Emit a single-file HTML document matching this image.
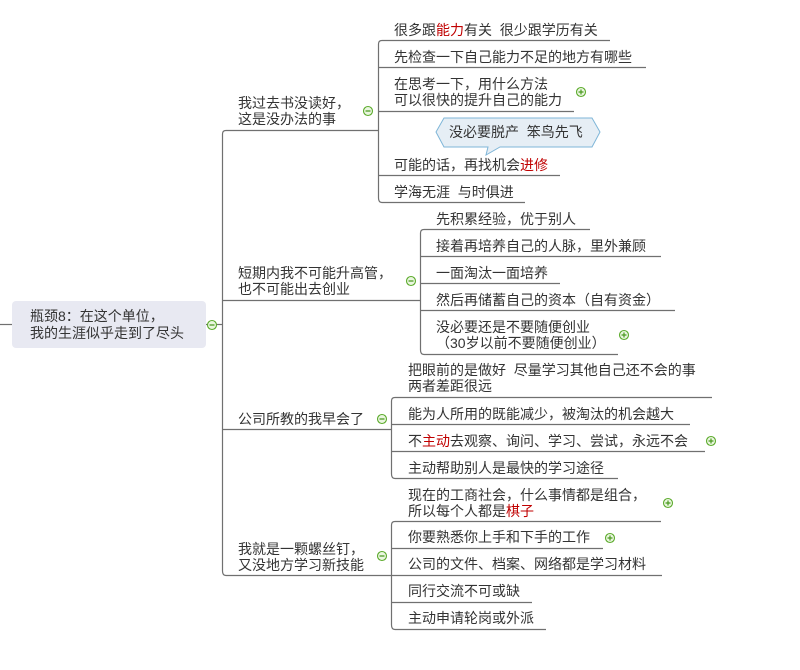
<!DOCTYPE html>
<html><head><meta charset="utf-8"><style>
body{margin:0;background:#fff;}
svg text{font-family:"Liberation Sans","Noto Sans CJK SC","WenQuanYi Zen Hei",sans-serif;font-size:14px;fill:#333;}
</style></head><body>
<svg width="800" height="665" viewBox="0 0 800 665" xmlns="http://www.w3.org/2000/svg">
<g fill="none" stroke="#707070" stroke-width="1.2">
<path d="M0 324.5H12"/>
<path d="M206 324.5H222"/>
<path d="M226 130.5Q222.5 130.5 222.5 134V571Q222.5 575.5 226 575.5"/>
<path d="M226 130.5H378M222.5 300.5H420M222.5 429.5H391M226 575.5H391"/>
<path d="M382 40.5Q378.5 40.5 378.5 44V198Q378.5 202.5 382 202.5"/>
<path d="M382 40.5H610M378.5 67.5H646M378.5 111.5H574M378.5 175.5H560M382 202.5H525"/>
<path d="M424 229.5Q420.5 229.5 420.5 233V350Q420.5 354.5 424 354.5"/>
<path d="M424 229.5H590M420.5 256.5H661M420.5 283.5H560M420.5 310.5H675M424 354.5H618"/>
<path d="M395 397.5Q391.5 397.5 391.5 401V474Q391.5 478.5 395 478.5"/>
<path d="M395 397.5H712M391.5 424.5H690M391.5 451.5H705M395 478.5H618"/>
<path d="M395 521.5Q391.5 521.5 391.5 525V625Q391.5 629.5 395 629.5"/>
<path d="M395 521.5H661M391.5 548.5H603M391.5 575.5H662M391.5 602.5H532M395 629.5H546"/>
</g>
<rect x="12" y="301" width="194" height="47" rx="4" fill="#e8e9f2"/>
<text x="30" y="321">瓶颈8：在这个单位，</text>
<text x="30" y="338">我的生涯似乎走到了尽头</text>
<polygon points="436,132 444,118 592,118 600,132 592,147 500,147 486,155 488,147 444,147" fill="#e6eef5" stroke="#7fb6d8" stroke-width="1"/>
<text x="449" y="137">没必要脱产&#160;&#160;笨鸟先飞</text>
<text x="238" y="108">我过去书没读好，</text>
<text x="238" y="124">这是没办法的事</text>
<text x="238" y="278">短期内我不可能升高管，</text>
<text x="238" y="294">也不可能出去创业</text>
<text x="238" y="424">公司所教的我早会了</text>
<text x="238" y="554">我就是一颗螺丝钉，</text>
<text x="238" y="570">又没地方学习新技能</text>
<text x="394" y="35">很多跟<tspan fill="#c00000">能力</tspan>有关&#160;&#160;很少跟学历有关</text>
<text x="394" y="62">先检查一下自己能力不足的地方有哪些</text>
<text x="394" y="89">在思考一下，用什么方法</text>
<text x="394" y="105">可以很快的提升自己的能力</text>
<text x="394" y="170">可能的话，再找机会<tspan fill="#c00000">进修</tspan></text>
<text x="394" y="197">学海无涯&#160;&#160;与时俱进</text>
<text x="436" y="224">先积累经验，优于别人</text>
<text x="436" y="251">接着再培养自己的人脉，里外兼顾</text>
<text x="436" y="278">一面淘汰一面培养</text>
<text x="436" y="305">然后再储蓄自己的资本（自有资金）</text>
<text x="436" y="332">没必要还是不要随便创业</text>
<text x="436" y="348">（30岁以前不要随便创业）</text>
<text x="408" y="375">把眼前的是做好&#160;&#160;尽量学习其他自己还不会的事</text>
<text x="408" y="391">两者差距很远</text>
<text x="408" y="419">能为人所用的既能减少，被淘汰的机会越大</text>
<text x="408" y="446">不<tspan fill="#c00000">主动</tspan>去观察、询问、学习、尝试，永远不会</text>
<text x="408" y="473">主动帮助别人是最快的学习途径</text>
<text x="408" y="500">现在的工商社会，什么事情都是组合，</text>
<text x="408" y="516">所以每个人都是<tspan fill="#c00000">棋子</tspan></text>
<text x="408" y="542">你要熟悉你上手和下手的工作</text>
<text x="408" y="569">公司的文件、档案、网络都是学习材料</text>
<text x="408" y="596">同行交流不可或缺</text>
<text x="408" y="623">主动申请轮岗或外派</text>
<g stroke="#5cab2c" stroke-width="1.1" fill="#eaf6e0">
<circle cx="212" cy="325" r="4.5"/><circle cx="368" cy="111" r="4.5"/><circle cx="411" cy="281" r="4.5"/>
<circle cx="382" cy="419" r="4.5"/><circle cx="382" cy="556" r="4.5"/>
<circle cx="581" cy="92" r="4.5"/><circle cx="624" cy="335" r="4.5"/><circle cx="711" cy="441" r="4.5"/>
<circle cx="668" cy="503" r="4.5"/><circle cx="610" cy="538" r="4.5"/>
</g>
<g stroke="#4a9a20" stroke-width="1.2">
<path d="M209.5 325H214.5M365.5 111H370.5M408.5 281H413.5M379.5 419H384.5M379.5 556H384.5"/>
<path d="M578.5 92H583.5M581 89.5V94.5M621.5 335H626.5M624 332.5V337.5M708.5 441H713.5M711 438.5V443.5M665.5 503H670.5M668 500.5V505.5M607.5 538H612.5M610 535.5V540.5"/>
</g>
</svg>
</body></html>
